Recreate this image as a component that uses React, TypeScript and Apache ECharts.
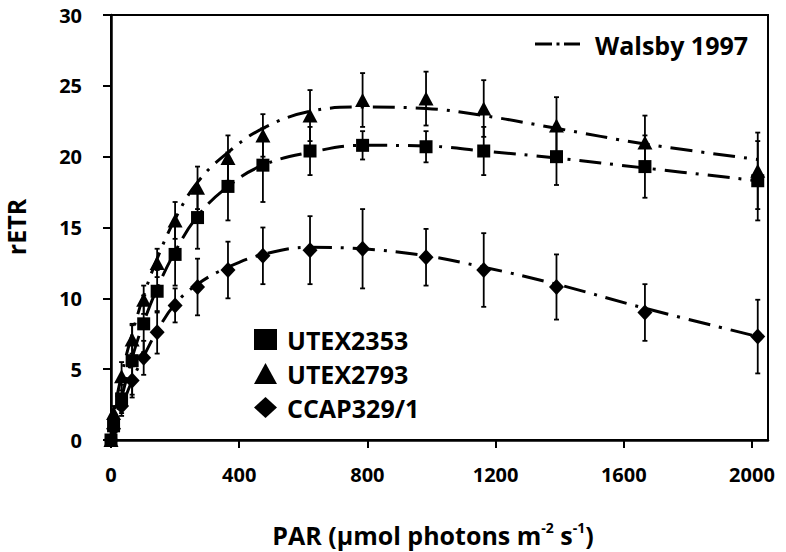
import React, { useEffect, useRef } from "react";
import * as echarts from "echarts";

// PAR levels (µmol photons m-2 s-1)
const par = [0, 8, 33, 66, 102, 144, 200, 270, 365, 474, 621, 785, 983, 1163, 1390, 1666, 2018];

// Measured rETR (mean) and error (±)
const utex2353 = [0, 1.0, 2.9, 5.6, 8.2, 10.5, 13.1, 15.7, 17.9, 19.4, 20.4, 20.8, 20.7, 20.4, 20.0, 19.3, 18.3];
const utex2353Err = [0, 0.3, 1.0, 2.6, 2.0, 1.5, 2.2, 2.2, 2.4, 2.6, 1.7, 1.0, 1.1, 1.7, 2.0, 2.2, 2.8];
const utex2793 = [0, 1.9, 4.5, 7.1, 9.9, 12.5, 15.5, 17.8, 19.9, 21.5, 22.9, 24.0, 24.1, 23.4, 22.2, 21.0, 19.0];
const utex2793Err = [0, 0.5, 1.0, 1.0, 1.0, 1.0, 1.3, 1.5, 1.6, 1.5, 1.8, 1.9, 1.9, 2.0, 2.0, 1.9, 2.7];
const ccap = [0, 0.8, 2.4, 4.2, 5.8, 7.6, 9.5, 10.8, 12.0, 13.0, 13.4, 13.5, 12.9, 12.0, 10.8, 9.0, 7.3];
const ccapErr = [0, 0.3, 0.7, 1.0, 1.2, 1.5, 1.2, 2.0, 2.0, 2.0, 2.4, 2.8, 2.0, 2.6, 2.3, 2.0, 2.6];

// Walsby 1997 model fits
const fit2353 = [0, 1.0, 3.0, 5.8, 8.3, 10.7, 13.3, 15.8, 17.9, 19.4, 20.3, 20.8, 20.75, 20.4, 19.9, 19.2, 18.3];
const fit2793 = [0, 1.7, 4.6, 7.5, 10.2, 12.8, 15.6, 18.2, 20.3, 22.0, 23.2, 23.5, 23.4, 22.9, 22.0, 20.9, 19.8];
const fitCcap = [0, 0.7, 2.3, 4.2, 5.9, 7.7, 9.6, 11.0, 12.2, 13.1, 13.6, 13.5, 13.0, 12.2, 11.0, 9.3, 7.3];

const seriesNames = ["UTEX2353", "UTEX2793", "CCAP329/1"];
const xTicks = [0, 400, 800, 1200, 1600, 2000];

const FONT = "'Open Sans', 'DejaVu Sans', sans-serif";

const pairs = (ys: number[]) => par.map((x, i) => [x, ys[i]]);
const errData = (ys: number[], es: number[]) => par.map((x, i) => [x, ys[i] - es[i], ys[i] + es[i]]);

const errorBarSeries = (name: string, ys: number[], es: number[]) => ({
  type: "custom",
  name: name + " err",
  data: errData(ys, es),
  z: 3,
  silent: true,
  renderItem: (params: any, api: any) => {
    const x = api.value(0);
    const lo = api.coord([x, api.value(1)]);
    const hi = api.coord([x, api.value(2)]);
    const cap = 2.5;
    const st = { stroke: "#000", lineWidth: 1.8 };
    return {
      type: "group",
      children: [
        { type: "line", shape: { x1: lo[0], y1: lo[1], x2: hi[0], y2: hi[1] }, style: st },
        { type: "line", shape: { x1: lo[0] - cap, y1: lo[1], x2: lo[0] + cap, y2: lo[1] }, style: st },
        { type: "line", shape: { x1: hi[0] - cap, y1: hi[1], x2: hi[0] + cap, y2: hi[1] }, style: st },
      ],
    };
  },
});

const fitSeries = (ys: number[]) => ({
  type: "line",
  name: "Walsby 1997",
  data: pairs(ys),
  smooth: 0.4,
  showSymbol: false,
  symbol: "none",
  z: 2,
  silent: true,
  lineStyle: { color: "#000", width: 3, type: [22, 9, 3, 9] },
});

const markerSeries = (name: string, ys: number[], symbol: string, size: any) => ({
  type: "scatter",
  name,
  data: pairs(ys),
  symbol,
  symbolSize: size,
  z: 4,
  itemStyle: { color: "#000", opacity: 1 },
});

export default function App() {
  const ref = useRef<HTMLDivElement>(null);
  useEffect(() => {
    if (!ref.current) return;
    const chart = echarts.init(ref.current, undefined, { renderer: "svg" });
    chart.setOption({
      animation: false,
      backgroundColor: "#fff",
      textStyle: { fontFamily: FONT },
      grid: {
        left: 111,
        right: 18,
        top: 15,
        bottom: 112,
        show: true,
        borderColor: "#000",
        borderWidth: 2,
        containLabel: false,
      },
      xAxis: {
        type: "value",
        min: 0,
        max: 2050,
        interval: 400,
        splitLine: { show: false },
        axisLine: { onZero: false, lineStyle: { color: "#000", width: 2.5 } },
        axisTick: { inside: false, length: 8, lineStyle: { color: "#000", width: 2 } },
        axisLabel: {
          margin: 24,
          color: "#000",
          fontSize: 20,
          fontWeight: "bold",
          fontFamily: FONT,
          showMaxLabel: false,
          formatter: (v: number) => (xTicks.includes(v) ? String(v) : ""),
        },
      },
      yAxis: {
        type: "value",
        min: 0,
        max: 30,
        interval: 5,
        splitLine: { show: false },
        axisLine: { onZero: false, lineStyle: { color: "#000", width: 2.5 } },
        axisTick: { inside: false, length: 8, lineStyle: { color: "#000", width: 2 } },
        axisLabel: {
          margin: 29,
          color: "#000",
          fontSize: 20,
          fontWeight: "bold",
          fontFamily: FONT,
        },
      },
      legend: {
        data: [
          { name: seriesNames[0], icon: "rect" },
          { name: seriesNames[1], icon: "triangle" },
          { name: seriesNames[2], icon: "diamond" },
        ],
        orient: "vertical",
        left: 249,
        top: 322,
        itemWidth: 23,
        itemHeight: 21,
        itemGap: 9,
        selectedMode: false,
        textStyle: { color: "#000", fontSize: 25, fontWeight: "bold", fontFamily: FONT, padding: [0, 0, 0, 5] },
        itemStyle: { color: "#000", opacity: 1 },
      },
      graphic: [
        {
          type: "text",
          x: 16,
          y: 227,
          rotation: Math.PI / 2,
          style: {
            text: "rETR",
            fill: "#000",
            font: `bold 25px ${FONT}`,
            textAlign: "center",
            textVerticalAlign: "middle",
          },
        },
        {
          type: "text",
          x: 433,
          y: 535,
          style: {
            text: "PAR (µmol photons m{sup|-2} s{sup|-1})",
            fill: "#000",
            font: `bold 25px ${FONT}`,
            fontSize: 25,
            fontWeight: "bold",
            fontFamily: FONT,
            lineHeight: 30,
            textAlign: "center",
            textVerticalAlign: "middle",
            rich: {
              sup: {
                fontSize: 14,
                fontWeight: "bold",
                fontFamily: FONT,
                fill: "#000",
                verticalAlign: "top",
                lineHeight: 18,
              },
            },
          },
        },
        {
          type: "line",
          shape: { x1: 535, y1: 44, x2: 552, y2: 44 },
          style: { stroke: "#000", lineWidth: 3 },
        },
        {
          type: "rect",
          shape: { x: 556.5, y: 42.5, width: 3, height: 3 },
          style: { fill: "#000" },
        },
        {
          type: "line",
          shape: { x1: 564, y1: 44, x2: 580, y2: 44 },
          style: { stroke: "#000", lineWidth: 3 },
        },
        {
          type: "text",
          x: 595,
          y: 45,
          style: {
            text: "Walsby 1997",
            fill: "#000",
            font: `bold 25px ${FONT}`,
            textAlign: "left",
            textVerticalAlign: "middle",
          },
        },
      ],
      series: [
        fitSeries(fit2353),
        fitSeries(fit2793),
        fitSeries(fitCcap),
        errorBarSeries(seriesNames[0], utex2353, utex2353Err),
        errorBarSeries(seriesNames[1], utex2793, utex2793Err),
        errorBarSeries(seriesNames[2], ccap, ccapErr),
        markerSeries(seriesNames[0], utex2353, "rect", 13),
        markerSeries(seriesNames[1], utex2793, "triangle", [15, 14]),
        markerSeries(seriesNames[2], ccap, "diamond", [15, 16]),
      ],
    });
    return () => chart.dispose();
  }, []);
  return <div ref={ref} style={{ width: 786, height: 552, position: "absolute", left: 0, top: 0 }} />;
}
